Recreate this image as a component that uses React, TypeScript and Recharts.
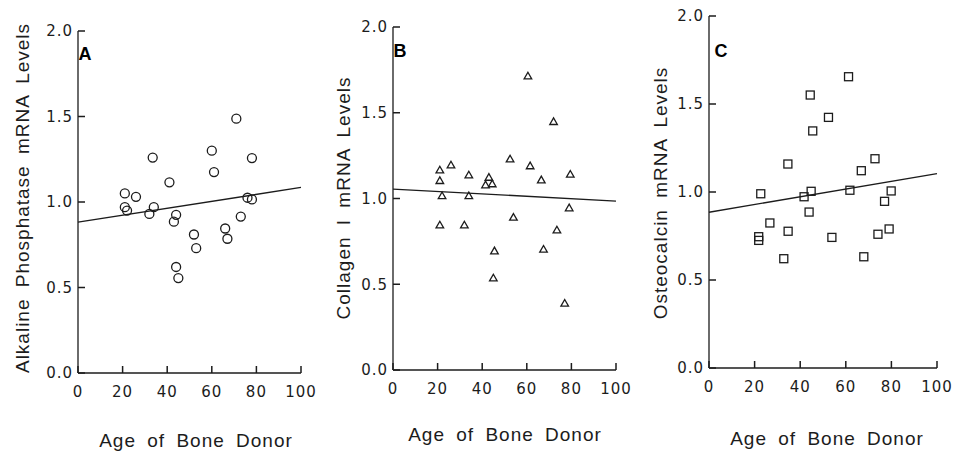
import React from 'react';
import { ScatterChart, Scatter, XAxis, YAxis, ReferenceLine } from 'recharts';

const xTicks = [0, 20, 40, 60, 80, 100];
const yTicks = [0, 0.5, 1.0, 1.5, 2.0];
const xTitle = 'Age of Bone Donor';

// Panel A — Alkaline phosphatase
const alpAge = [21, 26, 21, 22, 33.5, 34, 32, 41, 44, 43, 44, 45, 52, 53, 60, 61, 66, 67, 71, 73, 76, 78, 78];
const alpLevel = [1.05, 1.03, 0.97, 0.95, 1.26, 0.97, 0.93, 1.115, 0.925, 0.885, 0.62, 0.555, 0.81, 0.73, 1.3, 1.175, 0.845, 0.785, 1.487, 0.915, 1.025, 1.015, 1.257];
const alpFit = [0.882, 1.085];

// Panel B — Collagen I
const colAge = [21, 26, 21, 22, 21, 34, 34, 32, 43, 41.5, 44.5, 52.5, 61.5, 66.5, 79.5, 54, 79, 73.5, 45.5, 67.5, 45, 77, 60.5, 72];
const colLevel = [1.166, 1.195, 1.104, 1.016, 0.845, 1.137, 1.016, 0.845, 1.123, 1.079, 1.085, 1.23, 1.19, 1.108, 1.141, 0.89, 0.945, 0.816, 0.694, 0.704, 0.536, 0.389, 1.714, 1.448];
const colFit = [1.055, 0.985];

// Panel C — Osteocalcin
const ostAge = [22.7, 21.8, 21.8, 26.7, 34.6, 34.7, 32.8, 41.7, 44.8, 43.9, 53.9, 61.8, 66.8, 72.8, 79.9, 77, 79, 74.1, 67.9, 61.2, 44.4, 52.4, 45.5];
const ostLevel = [0.99, 0.746, 0.725, 0.824, 1.159, 0.777, 0.621, 0.973, 1.004, 0.886, 0.742, 1.01, 1.121, 1.189, 1.006, 0.947, 0.79, 0.76, 0.632, 1.655, 1.551, 1.424, 1.347];
const ostFit = [0.885, 1.105];

const INK = '#1c1c1c';
const FONT = '"Liberation Sans", Arial, sans-serif';
const TICKFONT = '"DejaVu Sans", sans-serif';

const toRows = (xs: number[], ys: number[]) => xs.map((x, i) => ({ x, y: ys[i] }));

const CircleShape = (p: any) => (
  <circle cx={p.cx} cy={p.cy} r={4.5} fill="none" stroke={INK} strokeWidth={1.3} />
);
const TriangleShape = (p: any) => {
  const s = 3.8;
  const pts = `${p.cx},${p.cy - s} ${p.cx + s},${p.cy + s * 0.75} ${p.cx - s},${p.cy + s * 0.75}`;
  return <polygon points={pts} fill="none" stroke={INK} strokeWidth={1.3} />;
};
const SquareShape = (p: any) => (
  <rect x={p.cx - 4} y={p.cy - 4} width={8} height={8} fill="none" stroke={INK} strokeWidth={1.3} />
);

// XAxis: tickSize 6 + tickMargin 6 -> tick y = axis + 12
const XTick = (p: any) => {
  const axisY = p.y - 12;
  return (
    <g>
      <rect x={p.x - 0.75} y={axisY - 7} width={1.5} height={7} fill={INK} />
      <text
        x={p.x}
        y={axisY + 24}
        textAnchor="middle"
        fill={INK}
        fontSize={15}
        fontFamily={TICKFONT}
        letterSpacing={1}
      >
        {p.payload.value}
      </text>
    </g>
  );
};

// YAxis: tickSize 6 + tickMargin 0 -> tick x = axis - 6
const YTick = (p: any) => {
  const axisX = p.x + 6;
  return (
    <g>
      <rect x={axisX} y={p.y - 0.75} width={7} height={1.5} fill={INK} />
      <text
        x={axisX - 5}
        y={p.y}
        dy="0.36em"
        textAnchor="end"
        fill={INK}
        fontSize={15}
        fontFamily={TICKFONT}
        letterSpacing={1}
      >
        {Number(p.payload.value).toFixed(1)}
      </text>
    </g>
  );
};

type PanelProps = {
  left: number;
  width: number;
  margin: { top: number; right: number; bottom: number; left: number };
  ages: number[];
  levels: number[];
  fit: number[];
  shape: any;
  yTitle: string;
  letter: string;
  yTitlePos: [number, number];
  xTitlePos: [number, number];
  letterPos: [number, number];
};

function Panel(props: PanelProps) {
  const { left, width, margin, ages, levels, fit, shape, yTitle, letter, yTitlePos, xTitlePos, letterPos } = props;
  const data = toRows(ages, levels);
  return (
    <div style={{ position: 'absolute', left, top: 0 }}>
      <ScatterChart width={width} height={451} margin={margin}>
        <XAxis
          type="number"
          dataKey="x"
          domain={[0, 100]}
          ticks={xTicks}
          interval={0}
          stroke={INK}
          strokeWidth={1.3}
          tickLine={false}
          tickSize={6}
          tickMargin={6}
          height={30}
          tick={XTick}
          label={() => (
            <text
              x={xTitlePos[0]}
              y={xTitlePos[1]}
              textAnchor="middle"
              fill={INK}
              fontSize={19}
              fontFamily={FONT}
              letterSpacing={1}
              wordSpacing={5}
            >
              {xTitle}
            </text>
          )}
        />
        <YAxis
          type="number"
          dataKey="y"
          domain={[0, 2]}
          ticks={yTicks}
          interval={0}
          width={60}
          stroke={INK}
          strokeWidth={1.3}
          tickLine={false}
          tickSize={6}
          tickMargin={0}
          tick={YTick}
          label={() => (
            <g>
              <text
                x={yTitlePos[0]}
                y={yTitlePos[1]}
                transform={`rotate(-90 ${yTitlePos[0]} ${yTitlePos[1]})`}
                textAnchor="middle"
                dominantBaseline="central"
                fill={INK}
                fontSize={19}
                fontFamily={FONT}
                letterSpacing={1}
                wordSpacing={5}
              >
                {yTitle}
              </text>
              <text
                x={letterPos[0]}
                y={letterPos[1]}
                textAnchor="middle"
                fill="#000"
                fontSize={18}
                fontWeight="bold"
                fontFamily={FONT}
              >
                {letter}
              </text>
            </g>
          )}
        />
        <ReferenceLine
          segment={[
            { x: 0, y: fit[0] },
            { x: 100, y: fit[1] },
          ]}
          stroke={INK}
          strokeWidth={1.3}
          ifOverflow="visible"
        />
        <Scatter data={data} shape={shape} isAnimationActive={false} />
      </ScatterChart>
    </div>
  );
}

export default function App() {
  return (
    <div
      style={{
        position: 'absolute',
        left: 0,
        top: 0,
        width: 956,
        height: 451,
        background: '#fff',
        overflow: 'hidden',
      }}
    >
      <Panel
        left={0}
        width={320}
        margin={{ top: 31, right: 19, bottom: 48, left: 18 }}
        ages={alpAge}
        levels={alpLevel}
        fit={alpFit}
        shape={CircleShape}
        yTitle="Alkaline Phosphatase mRNA Levels"
        letter="A"
        yTitlePos={[22, 198]}
        xTitlePos={[196, 447]}
        letterPos={[85, 60]}
      />
      <Panel
        left={320}
        width={320}
        margin={{ top: 27, right: 24, bottom: 51, left: 13 }}
        ages={colAge}
        levels={colLevel}
        fit={colFit}
        shape={TriangleShape}
        yTitle="Collagen I mRNA Levels"
        letter="B"
        yTitlePos={[23, 198]}
        xTitlePos={[185, 441]}
        letterPos={[80, 57]}
      />
      <Panel
        left={640}
        width={316}
        margin={{ top: 16, right: 19, bottom: 53, left: 9 }}
        ages={ostAge}
        levels={ostLevel}
        fit={ostFit}
        shape={SquareShape}
        yTitle="Osteocalcin mRNA Levels"
        letter="C"
        yTitlePos={[20, 193]}
        xTitlePos={[187, 445]}
        letterPos={[81, 57]}
      />
    </div>
  );
}
